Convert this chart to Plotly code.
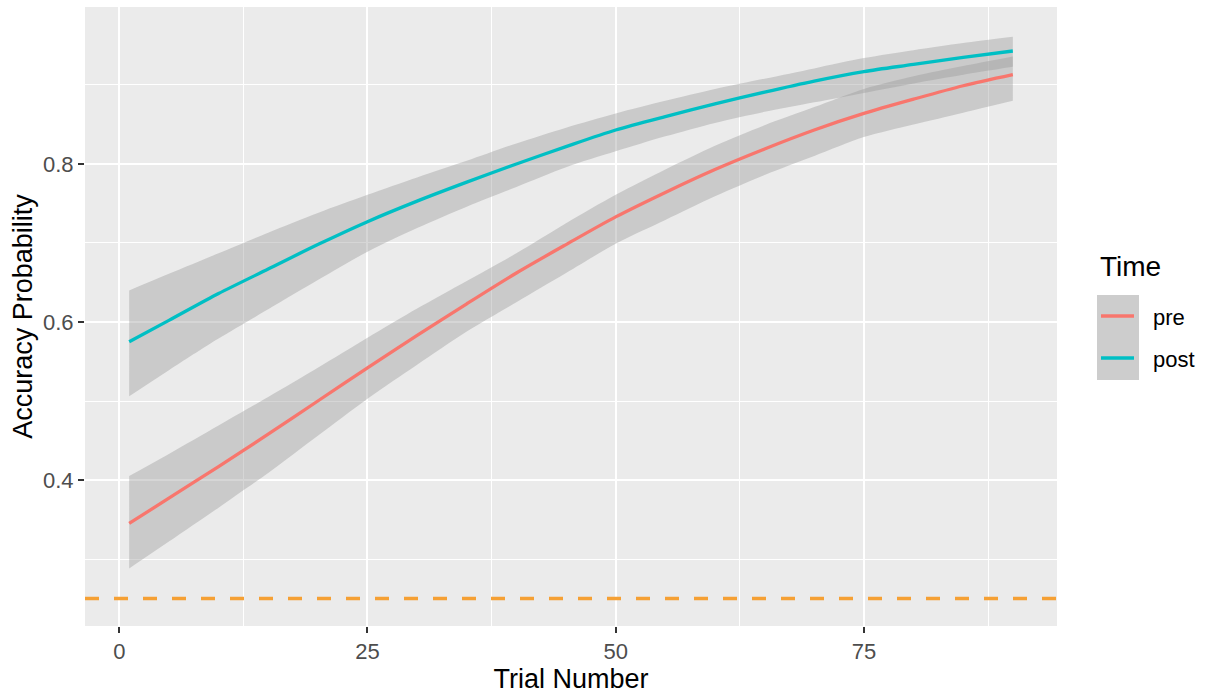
import plotly.graph_objects as go

# ---- data ----
trials = [1, 5, 10, 15, 20, 25, 30, 35, 40, 45, 50, 55, 60, 65, 70, 75, 80, 85, 90]

pre_fit = [0.345, 0.377, 0.417, 0.458, 0.500, 0.542, 0.583, 0.623, 0.662, 0.698,
           0.733, 0.764, 0.793, 0.819, 0.843, 0.864, 0.882, 0.899, 0.913]
pre_hi = [0.405, 0.433, 0.469, 0.505, 0.542, 0.580, 0.617, 0.652, 0.687, 0.725,
          0.761, 0.793, 0.823, 0.849, 0.872, 0.895, 0.911, 0.924, 0.936]
pre_lo = [0.288, 0.322, 0.365, 0.409, 0.456, 0.503, 0.546, 0.588, 0.625, 0.662,
          0.699, 0.729, 0.759, 0.786, 0.810, 0.834, 0.850, 0.865, 0.880]

post_fit = [0.575, 0.602, 0.636, 0.667, 0.698, 0.727, 0.753, 0.777, 0.800, 0.822,
            0.843, 0.860, 0.876, 0.891, 0.905, 0.917, 0.926, 0.935, 0.943]
post_hi = [0.640, 0.661, 0.687, 0.713, 0.738, 0.761, 0.783, 0.804, 0.826, 0.846,
           0.864, 0.880, 0.895, 0.908, 0.921, 0.934, 0.944, 0.953, 0.961]
post_lo = [0.506, 0.539, 0.579, 0.616, 0.653, 0.689, 0.719, 0.746, 0.771, 0.796,
           0.816, 0.835, 0.852, 0.866, 0.878, 0.890, 0.902, 0.913, 0.923]

chance_level = 0.25
time_levels = ["pre", "post"]
x_ticks = [0, 25, 50, 75]
y_ticks = [0.4, 0.6, 0.8]

# ---- styling ----
W, H = 1209, 696
ML, MR, MT, MB = 85, 152, 7, 70
colors = {"pre": "#F8766D", "post": "#00BFC4"}
ribbon_fill = "rgba(153,153,153,0.4)"
FONT = "Liberation Sans, Arial, sans-serif"


def px_x(p):
    return (p - ML) / (W - ML - MR)


def px_y(p):
    return (H - MB - p) / (H - MT - MB)


series = {
    "pre": (pre_fit, pre_lo, pre_hi),
    "post": (post_fit, post_lo, post_hi),
}

fig = go.Figure()

for name in time_levels:
    fit, lo, hi = series[name]
    fig.add_trace(go.Scatter(x=trials, y=hi, mode="lines",
                             line=dict(width=0, shape="spline", smoothing=0.8),
                             showlegend=False, hoverinfo="skip"))
    fig.add_trace(go.Scatter(x=trials, y=lo, mode="lines",
                             line=dict(width=0, shape="spline", smoothing=0.8),
                             fill="tonexty", fillcolor=ribbon_fill,
                             showlegend=False, hoverinfo="skip"))

for name in time_levels:
    fit, lo, hi = series[name]
    fig.add_trace(go.Scatter(x=trials, y=fit, mode="lines", name=name,
                             line=dict(color=colors[name], width=3.3, shape="spline", smoothing=0.8),
                             showlegend=False))

# chance line
fig.add_shape(type="line", xref="paper", yref="y", x0=0, x1=1,
              y0=chance_level, y1=chance_level,
              line=dict(color="#F5A034", width=3.5, dash="14px,15px"))

# ---- legend (drawn by hand to match ggplot's key box) ----
fig.add_shape(type="rect", xref="paper", yref="paper",
              x0=px_x(1097), x1=px_x(1139), y0=px_y(380), y1=px_y(295),
              fillcolor="#CDCDCD", line=dict(width=0), layer="above")
key_y = {"pre": 316, "post": 358}
for name in time_levels:
    fig.add_shape(type="line", xref="paper", yref="paper",
                  x0=px_x(1101), x1=px_x(1134), y0=px_y(key_y[name]), y1=px_y(key_y[name]),
                  line=dict(color=colors[name], width=3.5), layer="above")
    fig.add_annotation(text=name, xref="paper", yref="paper",
                       x=px_x(1151), y=px_y(key_y[name] + 1), xanchor="left", yanchor="middle",
                       showarrow=False, font=dict(family=FONT, size=22, color="#000000"))
fig.add_annotation(text="Time", xref="paper", yref="paper",
                   x=px_x(1098), y=px_y(266), xanchor="left", yanchor="middle",
                   showarrow=False, font=dict(family=FONT, size=28, color="#000000"))

fig.update_layout(
    width=W, height=H,
    margin=dict(l=ML, r=MR, t=MT, b=MB),
    paper_bgcolor="white",
    plot_bgcolor="#EBEBEB",
    showlegend=False,
    font=dict(family=FONT),
    xaxis=dict(
        range=[-3.45, 94.45],
        tickmode="array", tickvals=x_ticks, ticktext=[str(v) for v in x_ticks],
        ticks="outside", ticklen=6, tickwidth=2, tickcolor="#333333",
        tickfont=dict(family=FONT, size=22, color="#4D4D4D"),
        showgrid=True, gridcolor="white", gridwidth=2,
        minor=dict(tick0=12.5, dtick=25, showgrid=True, gridcolor="white", gridwidth=1, ticks=""),
        zeroline=False, showline=False,
        title=dict(text="Trial Number", font=dict(family=FONT, size=27, color="#000000"), standoff=4),
    ),
    yaxis=dict(
        range=[0.2152, 0.9987],
        tickmode="array", tickvals=y_ticks, ticktext=[f"{v:.1f}" for v in y_ticks],
        ticks="outside", ticklen=6, tickwidth=2, tickcolor="#333333",
        tickfont=dict(family=FONT, size=22, color="#4D4D4D"),
        showgrid=True, gridcolor="white", gridwidth=2,
        minor=dict(tick0=0.3, dtick=0.2, showgrid=True, gridcolor="white", gridwidth=1, ticks=""),
        zeroline=False, showline=False,
        title=dict(text="Accuracy Probability", font=dict(family=FONT, size=27, color="#000000"), standoff=2),
    ),
)

fig.write_html("out.html",
               config={"displayModeBar": False},
               post_script="document.body.style.margin='0';document.body.style.padding='0';")
